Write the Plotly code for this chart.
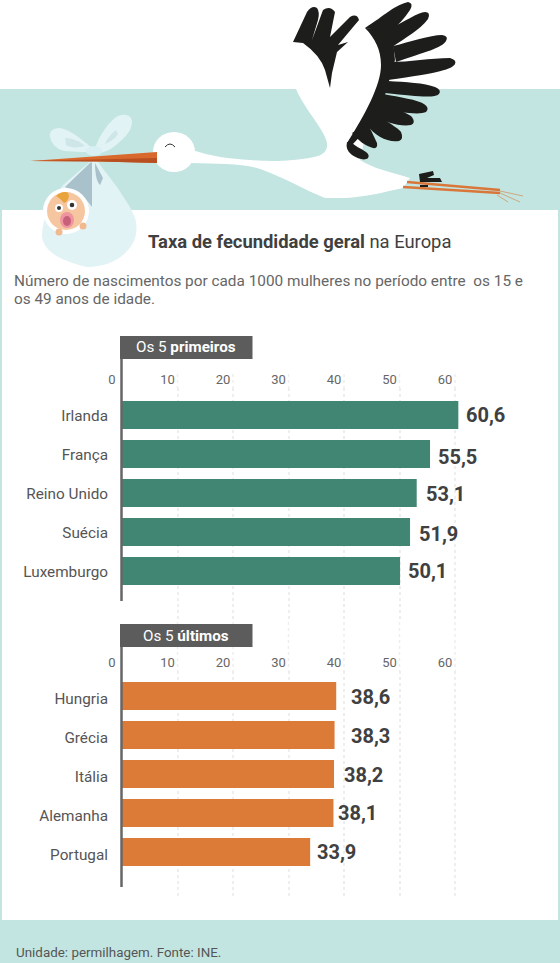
import plotly.graph_objects as go

# dados
paises_top = ["Irlanda", "França", "Reino Unido", "Suécia", "Luxemburgo"]
valores_top = [60.6, 55.5, 53.1, 51.9, 50.1]
paises_fim = ["Hungria", "Grécia", "Itália", "Alemanha", "Portugal"]
valores_fim = [38.6, 38.3, 38.2, 38.1, 33.9]
ticks = [0, 10, 20, 30, 40, 50, 60]

# desvios das etiquetas de valor, em pixels
desvio_top = [(6, 0), (6, -3), (7, -1), (7, -2), (6, 0)]
desvio_fim = [(13, -1), (14, -1), (8, -1), (3, 0), (5, 0)]

LARGURA = 560
ALTURA = 963
AZUL = "#c3e5e1"
VERDE = "#418672"
LARANJA = "#dc7a37"
CINZA = "#5c5c5c"
TEXTO = "#404040"
FONTE = "Roboto"


def py(y):
    return 1 - y / ALTURA


def px(x):
    return x / LARGURA


# formas da ilustração, em pixels da página
asa_esq = "M293,42 L307,12 Q312,5 317,8 Q320,12 318,20 L312,40 L323,10 Q330,5 335,12 L330,37 L350,17 Q357,13 359,20 L338,45 L348,42 L337,52 L332,73 L330,88 L325,70 Q320,55 303,43 Z"
asa_dir = [
    "M365,28 C375,38 381,50 381,65 C381,85 365,115 347,143 L352,145 L368,128 L385,95 L395,60 L392,30 Z",
    "M365,28 C385,15 395,5 408,2 Q414,3 410,10 C405,18 398,25 390,32 Z",
    "M388,29 C405,22 418,12 425,12 Q431,12 428,19 C420,30 405,38 392,47 Z",
    "M393,46 C410,42 430,35 442,35 Q449,36 446,41 C442,48 425,52 396,62 Z",
    "M390,62 C410,62 430,58 450,58 Q457,60 455,64 C452,69 440,73 388,80 Z",
    "M388,81 C405,82 425,83 435,87 Q442,90 439,94 C435,98 420,97 385,93 Z",
    "M383,94 C400,97 418,100 424,104 Q430,108 426,112 C420,115 400,113 378,107 Z",
    "M379,106 C395,108 408,113 412,117 Q416,123 411,125 C400,127 385,122 372,115 Z",
    "M375,114 C385,120 398,128 401,132 Q404,139 399,141 C388,143 375,136 366,124 Z",
    "M368,124 L377,143 Q378,149 373,148 C365,146 358,140 352,133 Z",
    "M347,142 Q345,150 352,155 C358,159 365,161 368,158 Q370,155 366,152 C360,148 355,146 352,143 Z",
]
corpo = "M296,89 C305,110 325,130 327,143 C328,150 324,154 318,156 C300,161 270,162 250,160 C230,159 210,156 192,150 L192,163 C220,164 245,163 263,170 C285,178 305,190 325,198 L345,198 C365,197 385,192 403,188 L410,178 C390,172 372,168 360,160 L381,65 L365,28 L330,80 Z"
saco = "M92,160 L63,185 C50,200 42,220 42,237 C44,250 57,260 87,267 C105,267 120,260 128,250 C137,240 138,228 135,218 C130,205 122,195 117,187 C108,175 102,168 97,160 Z"
laco_esq = "M92,148 C80,138 70,130 60,128 C52,128 49,132 50,137 C52,145 58,150 65,151 C75,152 85,152 92,152 Z"
laco_dir = "M95,148 C100,135 108,122 118,116 C126,113 132,116 132,122 C132,130 125,138 116,145 C110,150 105,152 100,153 Z"
buraco_esq = "M65,138 C72,138 80,141 85,146 C78,148 70,148 66,145 Z"
buraco_dir = "M116,130 C112,133 107,138 105,144 C110,142 116,138 118,134 Z"
dobra1 = "M91,162 L65,187 C75,192 82,196 85,198 L92,207 L92,163 Z"
dobra2 = "M95,163 L103,178 L100,185 C97,182 95,175 95,163 Z"
bico = "M30,161 L157,152 L157,163 L100,161.5 Z"
bico_esc = "M30,161 L157,158 L157,163 L100,161.5 Z"
olho = "M165,147 Q170,141 175,147"
pe = "M419,174 L433,171 L434,175 L427,178 L440,178 L442,182 L420,182 Z"
cabelo = "M56,196 C60,192 66,191 68,193 C70,197 68,201 64,203 C62,200 59,198 56,196 Z"

formas = []


def forma(caminho, cor, linha=None, esp=0):
    formas.append(dict(type="path", path=caminho, xref="x3", yref="y3", fillcolor=cor,
                       line=dict(color=linha or cor, width=esp), layer="above"))


def elipse(cx, cy, rx, ry, cor):
    formas.append(dict(type="circle", xref="x3", yref="y3", x0=cx - rx, x1=cx + rx,
                       y0=cy - ry, y1=cy + ry, fillcolor=cor, line=dict(width=0), layer="above"))


def caixa(x0, y0, x1, y1, cor):
    formas.append(dict(type="rect", xref="x3", yref="y3", x0=x0, x1=x1, y0=y0, y1=y1,
                       fillcolor=cor, line=dict(width=0), layer="below"))


def risco(x0, y0, x1, y1, cor, esp):
    formas.append(dict(type="line", xref="x3", yref="y3", x0=x0, x1=x1, y0=y0, y1=y1,
                       line=dict(color=cor, width=esp), layer="above"))


# faixas de fundo
caixa(0, 89, 560, 210, AZUL)
caixa(0, 920, 560, 963, AZUL)
caixa(0, 210, 2, 920, AZUL)
caixa(558, 210, 560, 920, AZUL)

# cegonha
forma(corpo, "white")
elipse(174, 152, 21, 20, "white")
forma(asa_esq, "#1d1d1b")
for pena in asa_dir:
    forma(pena, "#1d1d1b")
forma(olho, "rgba(0,0,0,0)", "#333333", 1)
risco(407, 182, 500, 190, "#d9773a", 2.5)
risco(403, 187, 500, 193, "#d9773a", 2.5)
risco(500, 191, 523, 196, "#cfa77e", 1)
risco(500, 193, 520, 202, "#cfa77e", 1)
risco(497, 195, 508, 202, "#cfa77e", 1)
forma(pe, "#1d1d1b")
formas.append(dict(type="rect", xref="x3", yref="y3", x0=420, x1=428, y0=185, y1=187,
                   fillcolor="#1d1d1b", line=dict(width=0), layer="above"))

# saco e bebé
forma(saco, "#e2f3f6")
forma(laco_esq, "#e2f3f6")
forma(laco_dir, "#e2f3f6")
forma(buraco_esq, "#cfe6e8")
forma(buraco_dir, "#cfe6e8")
elipse(94, 151, 8, 5, "#d8eff3")
forma(dobra1, "#a9c1cb")
forma(dobra2, "#a9c1cb")
forma(bico, "#d9682c")
forma(bico_esc, "#b84f20")
elipse(66, 211, 23, 23, "white")
elipse(66, 211, 19, 19, "#f6c6a0")
forma(cabelo, "#e8a33a")
elipse(59, 208, 4, 4, "white")
elipse(59, 208, 2, 2, "#333333")
elipse(72, 205, 5, 5, "white")
elipse(72, 205, 2.3, 2.3, "#333333")
elipse(67, 220, 7, 8, "#ee95a0")
elipse(67, 221, 4, 5, "#c8607c")
elipse(83, 226, 3.5, 3.5, "#f2b98f")
elipse(59, 232, 3.5, 3.5, "#f2b98f")

# caixas dos títulos e eixo vertical
for topo, fim in [(336, 601), (624, 887)]:
    formas.append(dict(type="rect", xref="x3", yref="y3", x0=120, x1=252.5, y0=topo, y1=topo + 23,
                       fillcolor=CINZA, line=dict(width=0), layer="above"))
    formas.append(dict(type="line", xref="x3", yref="y3", x0=121.5, x1=121.5, y0=topo + 23, y1=fim,
                       line=dict(color="#666666", width=2.5), layer="above"))

# grelha nos intervalos entre os eixos
for t in ticks[1:]:
    for a, b in [(374, 388), (622, 671)]:
        formas.append(dict(type="line", xref="x", yref="paper", x0=t, x1=t, y0=py(a), y1=py(b),
                           line=dict(color="#eeeeee", width=1.5, dash="dot"), layer="below"))


def etiquetas(paises, valores, desvios, xr, yr):
    notas = []
    for p, v, d in zip(paises, valores, desvios):
        notas.append(dict(x=v, y=p, xref=xr, yref=yr, text=f"{v:.1f}".replace(".", ","), showarrow=False,
                          xanchor="left", xshift=d[0], yshift=d[1],
                          font=dict(family=FONTE, size=20, color=TEXTO, weight="bold")))
    return notas


def texto(x, y, t, tam, cor, anchor="left"):
    return dict(x=px(x), y=py(y), xref="paper", yref="paper", text=t, showarrow=False, xanchor=anchor,
                yanchor="middle", font=dict(family=FONTE, size=tam, color=cor))


notas = etiquetas(paises_top, valores_top, desvio_top, "x", "y")
notas += etiquetas(paises_fim, valores_fim, desvio_fim, "x2", "y2")
notas += [
    texto(146, 241, "<b>Taxa de fecundidade geral</b> na Europa", 18.4, TEXTO),
    texto(12, 281, "Número de nascimentos por cada 1000 mulheres no período entre \u00a0os 15 e", 15.35, "#666666"),
    texto(12, 299, "os 49 anos de idade.", 15.35, "#666666"),
    texto(186, 347, "Os 5 <b>primeiros</b>", 15.2, "white", "center"),
    texto(186, 636, "Os 5 <b>últimos</b>", 15.2, "white", "center"),
    texto(14, 952, "Unidade: permilhagem. Fonte: INE.", 13.4, "#555555"),
]

traco1 = go.Bar(x=valores_top, y=paises_top, orientation="h", marker_color=VERDE, width=0.72,
                xaxis="x", yaxis="y", hoverinfo="skip")
traco2 = go.Bar(x=valores_fim, y=paises_fim, orientation="h", marker_color=LARANJA, width=0.72,
                xaxis="x2", yaxis="y2", hoverinfo="skip")

eixo_x = dict(range=[0, 70], tickvals=ticks, side="top", showline=False, zeroline=False, ticks="",
              automargin=False, ticklabelshift=-10, tickfont=dict(family=FONTE, size=13, color="#666666"),
              gridcolor="#eeeeee", griddash="dot", gridwidth=1.5, fixedrange=True)
eixo_y = dict(showline=False, showgrid=False, zeroline=False, ticks="", ticklabelstandoff=13,
              automargin=False, tickfont=dict(family=FONTE, size=15.3, color="#555555"), fixedrange=True)

layout = go.Layout(
    template="none",
    width=LARGURA, height=ALTURA, margin=dict(l=0, r=0, t=0, b=0, autoexpand=False), paper_bgcolor="white",
    plot_bgcolor="rgba(0,0,0,0)", showlegend=False, font=dict(family=FONTE),
    xaxis=dict(eixo_x, domain=[px(122), px(122 + 5.55 * 70)], anchor="y"),
    yaxis=dict(eixo_y, domain=[py(622), py(388)], range=[5.31, -0.692], anchor="x", ticklabelshift=-1),
    xaxis2=dict(eixo_x, domain=[px(122), px(122 + 5.55 * 70)], anchor="y2"),
    yaxis2=dict(eixo_y, domain=[py(897), py(671)], range=[5.154, -0.641], anchor="x2", ticklabelshift=-3),
    xaxis3=dict(domain=[0, 1], range=[0, LARGURA], visible=False, anchor="y3", fixedrange=True),
    yaxis3=dict(domain=[0, 1], range=[ALTURA, 0], visible=False, anchor="x3", fixedrange=True),
    shapes=formas, annotations=notas,
)
fig = go.Figure(data=[traco1, traco2], layout=layout)

fig.write_html("out.html", config=dict(displayModeBar=False),
               post_script="document.body.style.margin='0';document.body.style.overflow='hidden';")
